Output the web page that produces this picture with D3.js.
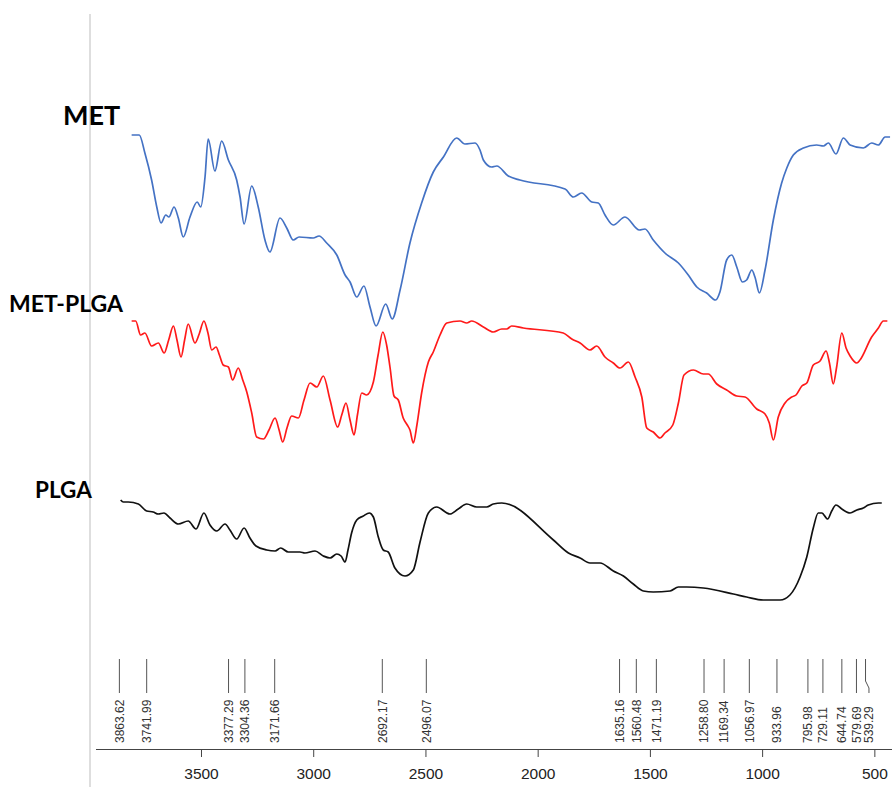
<!DOCTYPE html>
<html>
<head>
<meta charset="utf-8">
<script src="https://cdn.jsdelivr.net/npm/d3@7"></script>
<style>
  html, body { margin: 0; padding: 0; background: #fff; }
  svg { display: block; }
</style>
</head>
<body>
<svg id="chart" width="892" height="787"></svg>
<script>
// FTIR spectra: [wavenumber (cm-1), offset transmittance (a.u.)]
const metSpectrum = [
  [3809,565],[3775,565],[3750,547],[3720,520],[3697,493],[3678,477],[3657,485],[3643,483],
  [3620,493],[3601,482],[3579,463],[3549,483],[3517,498],[3501,493],[3482,523],[3468,561],
  [3438,529],[3408,559],[3378,540],[3341,520],[3326,503],[3308,476],[3274,514],[3245,493],
  [3215,460],[3193,448],[3148,482],[3118,472],[3089,460],[3063,463],[3000,462],[2974,464],
  [2940,457],[2895,445],[2858,425],[2836,418],[2806,403],[2774,414],[2747,393],[2720,374],
  [2677,396],[2648,381],[2613,410],[2569,457],[2517,497],[2465,528],[2420,543],[2361,562],
  [2324,556],[2279,557],[2257,550],[2242,540],[2205,533],[2182,534],[2131,524],[2079,520],
  [1878,511],[1841,503],[1804,507],[1759,498],[1730,497],[1700,485],[1663,475],[1611,483],
  [1547,470],[1522,471],[1485,460],[1433,447],[1373,437],[1329,425],[1291,413],[1247,407],
  [1207,400],[1188,408],[1158,440],[1135,445],[1113,433],[1088,418],[1069,420],[1046,430],
  [1032,423],[1012,407],[987,430],[950,480],[913,517],[890,532],[861,545],[816,552],
  [757,555],[727,554],[705,557],[671,546],[638,562],[608,555],[549,552],[512,557],
  [482,555],[452,563],[430,563]
];

const metPlgaSpectrum = [
  [3809,379],[3791,379],[3769,365],[3750,367],[3720,354],[3690,357],[3664,347],[3644,360],
  [3623,374],[3607,360],[3589,343],[3573,360],[3557,376],[3527,357],[3508,366],[3487,379],
  [3469,367],[3452,350],[3433,353],[3418,345],[3401,335],[3378,333],[3359,320],[3334,332],
  [3314,320],[3296,308],[3274,287],[3252,263],[3222,261],[3197,270],[3170,282],[3152,270],
  [3136,258],[3117,272],[3096,284],[3066,282],[3041,300],[3014,317],[2984,313],[2955,324],
  [2925,300],[2891,273],[2873,285],[2854,297],[2836,280],[2818,265],[2803,285],[2784,307],
  [2762,305],[2732,318],[2711,345],[2690,368],[2673,355],[2658,333],[2640,304],[2621,300],
  [2599,282],[2581,275],[2569,270],[2554,257],[2538,275],[2517,307],[2487,338],[2465,348],
  [2435,365],[2405,377],[2346,379],[2316,377],[2294,379],[2242,373],[2198,368],[2160,371],
  [2138,371],[2116,374],[2064,372],[1886,367],[1848,361],[1811,357],[1767,350],[1737,354],
  [1700,343],[1663,337],[1633,332],[1596,338],[1566,323],[1536,303],[1514,272],[1485,268],
  [1455,262],[1433,267],[1398,275],[1373,297],[1348,325],[1306,330],[1262,326],[1240,326],
  [1202,316],[1158,310],[1113,304],[1076,303],[1024,291],[987,286],[968,277],[950,260],
  [928,283],[898,297],[868,303],[849,305],[823,314],[801,317],[772,335],[742,339],
  [715,349],[700,337],[683,316],[668,333],[645,367],[626,352],[608,344],[578,337],
  [564,340],[512,363],[482,372],[460,379],[442,379]
];

const plgaSpectrum = [
  [3858,200],[3846,198],[3824,198],[3779,196],[3742,189],[3713,188],[3690,186],[3665,187],
  [3638,182],[3601,176],[3557,179],[3522,171],[3487,187],[3460,175],[3430,169],[3393,176],
  [3371,170],[3341,161],[3308,172],[3282,162],[3255,154],[3207,150],[3170,149],[3145,152],
  [3111,148],[3059,148],[3037,147],[2992,149],[2955,144],[2925,142],[2895,146],[2876,144],
  [2858,138],[2845,150],[2829,167],[2806,180],[2777,184],[2750,187],[2732,183],[2710,163],
  [2688,150],[2666,148],[2636,132],[2591,124],[2554,130],[2524,158],[2487,187],[2450,193],
  [2391,186],[2354,191],[2316,196],[2272,193],[2227,193],[2198,196],[2160,197],[1930,160],
  [1863,147],[1811,142],[1767,137],[1722,137],[1663,129],[1618,124],[1574,116],[1529,109],
  [1485,108],[1410,109],[1373,113],[1336,113],[1262,112],[1128,106],[1069,103],[995,100],
  [920,100],[876,105],[831,123],[801,143],[772,172],[750,187],[734,187],[708,181],
  [690,189],[671,195],[645,191],[608,187],[578,190],[549,192],[527,195],[482,197],[467,197]
];

const seriesNames = ["MET", "MET-PLGA", "PLGA"];
const seriesColors = ["#4472c4", "#ff1a1a", "#111111"];

// Marked band positions (cm-1)
const peakPositions = [3863.62, 3741.99, 3377.29, 3304.36, 3171.66, 2692.17, 2496.07,
  1635.16, 1560.48, 1471.19, 1258.80, 1169.34, 1056.97, 933.96, 795.98, 729.11,
  644.74, 579.69, 539.29];

const axisTicks = [3500, 3000, 2500, 2000, 1500, 1000, 500];

const svg = d3.select("#chart");

const x = d3.scaleLinear().domain([3970, 420]).range([95.5, 892.3]);
const y = d3.scaleLinear().domain([0, 700]).range([700, 0]);

// left guide line
svg.append("line")
  .attr("x1", 90).attr("x2", 90).attr("y1", 14).attr("y2", 787)
  .attr("stroke", "#bdbdbd").attr("stroke-width", 1);

// spectra
const line = d3.line()
  .x(d => x(d[0]))
  .y(d => y(d[1]))
  .curve(d3.curveMonotoneX);

[metSpectrum, metPlgaSpectrum, plgaSpectrum].forEach((data, i) => {
  svg.append("path")
    .datum(data)
    .attr("d", line)
    .attr("fill", "none")
    .attr("stroke", seriesColors[i])
    .attr("stroke-width", 1.7)
    .attr("stroke-linejoin", "round");
});

// spectrum names
const namePos = [
  {x: 63, y: 125, size: 27},
  {x: 9, y: 312, size: 23},
  {x: 35, y: 498, size: 22.5}
];
seriesNames.forEach((name, i) => {
  svg.append("text")
    .attr("x", namePos[i].x).attr("y", namePos[i].y)
    .attr("font-family", "Lato, 'Open Sans', sans-serif")
    .attr("font-weight", "bold")
    .attr("font-size", namePos[i].size)
    .attr("fill", "#000")
    .text(name);
});

// band markers with dodged labels
const lineTop = 659, lineBottom = 693, labelBase = 743;
let prevX = -Infinity;
const markers = peakPositions.map(p => {
  const px = x(p);
  let lx = px;
  if (lx - prevX < 12) lx = prevX + 12.5;
  prevX = lx;
  return {p, px, lx};
});

const markerG = svg.append("g");
markers.forEach(m => {
  const pts = m.lx === m.px
    ? [[m.px, lineTop], [m.px, lineBottom]]
    : [[m.px, lineTop], [m.px, 681], [m.lx, 688], [m.lx, lineBottom]];
  markerG.append("path")
    .attr("d", d3.line()(pts))
    .attr("fill", "none")
    .attr("stroke", "#555")
    .attr("stroke-width", 1);
  markerG.append("text")
    .attr("transform", `translate(${m.lx},${labelBase}) rotate(-90)`)
    .attr("dy", "0.36em")
    .attr("font-family", "'Liberation Sans', Arial, sans-serif")
    .attr("font-size", 12)
    .attr("fill", "#333")
    .text(m.p.toFixed(2));
});

// wavenumber axis
const axisG = svg.append("g")
  .attr("transform", "translate(0,749)")
  .call(d3.axisBottom(x).tickValues(axisTicks).tickFormat(d3.format("d"))
    .tickSize(8).tickSizeOuter(0).tickPadding(11));
axisG.select(".domain").attr("stroke", "#444");
axisG.selectAll(".tick line").attr("stroke", "#444");
axisG.selectAll(".tick text")
  .attr("font-family", "'Liberation Sans', Arial, sans-serif")
  .attr("font-size", 15.5)
  .attr("fill", "#222");
</script>
</body>
</html>
